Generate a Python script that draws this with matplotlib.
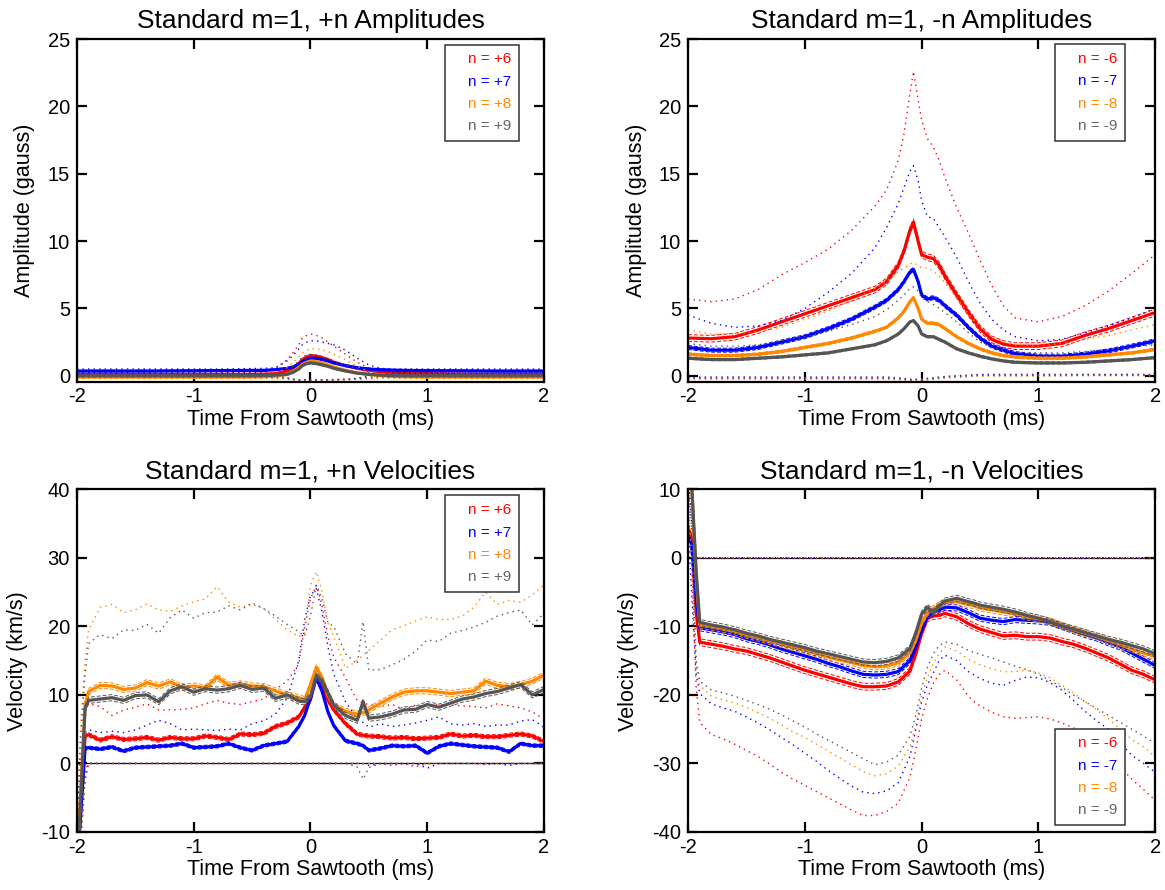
import numpy as np
import matplotlib
matplotlib.use("Agg")
import matplotlib.pyplot as plt
from matplotlib.lines import Line2D

plt.rcParams['font.family'] = ['Liberation Sans', 'DejaVu Sans']
plt.rcParams['axes.unicode_minus'] = False

# time grids (ms from sawtooth crash)
ta = [-2.0, -1.8, -1.6, -1.4, -1.2, -1.0, -0.8, -0.6,
      -0.4, -0.3, -0.2, -0.15, -0.1, -0.07, -0.03, 0.0,
      0.05, 0.1, 0.15, 0.2, 0.3, 0.4, 0.5, 0.6,
      0.7, 0.8, 1.0, 1.2, 1.4, 1.6, 1.8, 2.0]

tv = [-2.0, -1.97, -1.93, -1.9, -1.8, -1.7, -1.6, -1.5, -1.4, -1.3,
      -1.2, -1.1, -1.0, -0.9, -0.8, -0.7, -0.6, -0.5, -0.4, -0.3,
      -0.2, -0.1, -0.05, 0.0, 0.05, 0.1, 0.15, 0.2, 0.3, 0.4,
      0.45, 0.5, 0.6, 0.7, 0.8, 0.9, 1.0, 1.1, 1.2, 1.3,
      1.4, 1.5, 1.6, 1.7, 1.8, 1.9, 2.0]

# ---- +n amplitudes (gauss) ----
amp_p6 = [0.1, 0.1, 0.1, 0.1, 0.1, 0.1, 0.1, 0.1,
          0.12, 0.15, 0.35, 0.55, 0.9, 1.2, 1.4, 1.5,
          1.45, 1.35, 1.2, 1.0, 0.75, 0.55, 0.4, 0.3,
          0.25, 0.2, 0.15, 0.12, 0.1, 0.1, 0.1, 0.1]
amp_p7 = [0.35, 0.35, 0.35, 0.35, 0.36, 0.37, 0.38, 0.39,
          0.4, 0.45, 0.55, 0.65, 0.85, 1.05, 1.2, 1.3,
          1.3, 1.2, 1.1, 0.95, 0.75, 0.6, 0.5, 0.45,
          0.42, 0.4, 0.38, 0.37, 0.36, 0.35, 0.35, 0.35]
amp_p8 = [-0.1, -0.1, -0.1, -0.1, -0.1, -0.1, -0.1, -0.1,
          -0.08, -0.03, 0.1, 0.3, 0.6, 0.85, 1.0, 1.1,
          1.05, 0.95, 0.8, 0.65, 0.4, 0.2, 0.1, 0.0,
          -0.05, -0.08, -0.1, -0.1, -0.1, -0.1, -0.1, -0.1]
amp_p9 = [0.0, 0.0, 0.0, 0.0, 0.0, 0.0, 0.0, 0.0,
          0.02, 0.05, 0.1, 0.25, 0.5, 0.75, 0.9, 0.95,
          0.9, 0.8, 0.7, 0.55, 0.35, 0.2, 0.1, 0.05,
          0.02, 0.0, 0.0, 0.0, 0.0, 0.0, 0.0, 0.0]
amp_p6_hi = [0.25, 0.25, 0.25, 0.25, 0.25, 0.25, 0.25, 0.25,
             0.3, 0.5, 1.2, 1.7, 2.3, 2.8, 3.0, 3.1,
             3.0, 2.8, 2.5, 2.2, 1.6, 1.0, 0.6, 0.4,
             0.35, 0.3, 0.25, 0.25, 0.25, 0.25, 0.25, 0.25]
amp_p7_hi = [0.5, 0.5, 0.5, 0.5, 0.5, 0.5, 0.5, 0.52,
             0.55, 0.6, 1.1, 1.5, 2.0, 2.3, 2.5, 2.6,
             2.6, 2.5, 2.4, 2.3, 1.9, 1.3, 0.8, 0.55,
             0.5, 0.5, 0.5, 0.5, 0.5, 0.5, 0.5, 0.5]
amp_p8_hi = [0.0, 0.0, 0.0, 0.0, 0.0, 0.0, 0.0, 0.0,
             0.02, 0.1, 0.6, 1.0, 1.4, 1.7, 1.9, 2.0,
             2.0, 1.9, 1.8, 1.6, 1.2, 0.7, 0.3, 0.1,
             0.05, 0.0, 0.0, 0.0, 0.0, 0.0, 0.0, 0.0]
amp_p9_hi = [0.1, 0.1, 0.1, 0.1, 0.1, 0.1, 0.1, 0.1,
             0.12, 0.15, 0.4, 0.7, 1.1, 1.4, 1.55, 1.6,
             1.55, 1.45, 1.3, 1.1, 0.8, 0.5, 0.25, 0.15,
             0.1, 0.1, 0.1, 0.1, 0.1, 0.1, 0.1, 0.1]
amp_p6_lo = [0.0, 0.0, 0.0, 0.0, 0.0, 0.0, 0.0, 0.0,
             0.0, -0.05, -0.2, -0.28, -0.3, -0.3, -0.3, -0.3,
             -0.3, -0.3, -0.3, -0.28, -0.25, -0.2, -0.1, -0.05,
             0.0, 0.0, 0.0, 0.0, 0.0, 0.0, 0.0, 0.0]
amp_p7_lo = [0.2, 0.2, 0.2, 0.2, 0.2, 0.2, 0.2, 0.2,
             0.2, 0.1, -0.15, -0.25, -0.3, -0.3, -0.3, -0.3,
             -0.3, -0.3, -0.3, -0.3, -0.28, -0.2, 0.0, 0.1,
             0.2, 0.2, 0.2, 0.2, 0.2, 0.2, 0.2, 0.2]
amp_p8_lo = [-0.2, -0.2, -0.2, -0.2, -0.2, -0.2, -0.2, -0.2,
             -0.2, -0.22, -0.25, -0.3, -0.3, -0.3, -0.3, -0.3,
             -0.3, -0.3, -0.3, -0.3, -0.3, -0.28, -0.25, -0.2,
             -0.2, -0.2, -0.2, -0.2, -0.2, -0.2, -0.2, -0.2]
amp_p9_lo = [-0.1, -0.1, -0.1, -0.1, -0.1, -0.1, -0.1, -0.1,
             -0.1, -0.12, -0.2, -0.28, -0.3, -0.3, -0.3, -0.3,
             -0.3, -0.3, -0.3, -0.3, -0.28, -0.22, -0.15, -0.1,
             -0.1, -0.1, -0.1, -0.1, -0.1, -0.1, -0.1, -0.1]
err_amp_p = [0.05, 0.05, 0.05, 0.05]

# ---- -n amplitudes (gauss) ----
amp_n6 = [2.8, 2.75, 2.9, 3.4, 4.0, 4.6, 5.2, 5.8,
          6.4, 7.0, 8.2, 9.3, 10.8, 11.4, 10.0, 9.0,
          8.8, 8.7, 8.2, 7.4, 6.0, 4.7, 3.5, 2.7,
          2.35, 2.2, 2.2, 2.4, 3.0, 3.5, 4.1, 4.7]
amp_n7 = [2.1, 1.9, 1.9, 2.1, 2.5, 2.9, 3.5, 4.2,
          5.1, 5.6, 6.4, 7.0, 7.7, 7.9, 7.0, 6.0,
          5.7, 5.8, 5.6, 5.2, 4.5, 3.6, 2.8, 2.2,
          1.9, 1.65, 1.45, 1.45, 1.6, 1.85, 2.2, 2.6]
amp_n8 = [1.6, 1.5, 1.5, 1.6, 1.8, 2.1, 2.4, 2.8,
          3.3, 3.6, 4.3, 4.8, 5.5, 5.8, 5.0, 4.2,
          3.9, 3.9, 3.8, 3.5, 2.9, 2.4, 2.0, 1.7,
          1.5, 1.4, 1.3, 1.3, 1.4, 1.55, 1.7, 1.95]
amp_n9 = [1.3, 1.2, 1.2, 1.3, 1.4, 1.55, 1.7, 2.0,
          2.3, 2.6, 3.1, 3.5, 4.0, 4.1, 3.7, 3.1,
          2.9, 2.9, 2.7, 2.5, 2.0, 1.7, 1.45, 1.25,
          1.1, 1.0, 0.95, 0.95, 1.0, 1.1, 1.2, 1.35]
amp_n6_hi = [5.7, 5.5, 5.7, 6.4, 7.5, 8.4, 9.4, 10.8,
             12.6, 13.8, 16.0, 18.0, 21.0, 22.6, 20.5, 19.0,
             17.6, 17.0, 16.0, 14.7, 12.5, 10.6, 8.6, 6.7,
             5.2, 4.3, 4.0, 4.4, 5.2, 6.3, 7.6, 9.0]
amp_n7_hi = [4.5, 3.9, 3.6, 3.7, 4.1, 5.0, 6.2, 7.6,
             9.5, 11.0, 12.8, 14.0, 15.2, 15.6, 14.5, 13.0,
             11.8, 11.7, 11.0, 10.3, 8.8, 7.0, 5.4, 4.2,
             3.4, 2.9, 2.6, 2.7, 3.2, 3.7, 4.3, 5.0]
amp_n8_hi = [3.4, 3.1, 3.1, 3.3, 3.6, 4.2, 4.8, 5.6,
             6.5, 7.0, 7.7, 8.0, 8.3, 8.4, 8.2, 8.0,
             8.0, 7.8, 7.4, 6.9, 5.8, 4.6, 3.6, 2.9,
             2.5, 2.3, 2.2, 2.4, 2.7, 3.0, 3.4, 3.8]
amp_n9_hi = [2.4, 2.2, 2.2, 2.3, 2.6, 2.9, 3.3, 3.8,
             4.4, 4.9, 5.6, 6.0, 6.5, 6.6, 6.3, 5.8,
             5.5, 5.3, 5.0, 4.7, 4.0, 3.2, 2.5, 2.1,
             1.9, 1.75, 1.7, 1.7, 1.8, 1.95, 2.1, 2.3]
amp_n6_lo = [-0.2, -0.2, -0.2, -0.2, -0.2, -0.2, -0.2, -0.2,
             -0.2, -0.2, -0.25, -0.3, -0.35, -0.35, -0.3, -0.3,
             -0.3, -0.25, -0.2, -0.15, -0.1, -0.05, 0.0, 0.0,
             0.0, 0.0, 0.0, 0.0, 0.05, 0.05, 0.05, 0.0]
amp_n7_lo = [-0.1, -0.1, -0.1, -0.1, -0.1, -0.1, -0.1, -0.1,
             -0.1, -0.1, -0.15, -0.2, -0.25, -0.3, -0.25, -0.2,
             -0.2, -0.15, -0.1, -0.05, 0.0, 0.05, 0.1, 0.1,
             0.1, 0.1, 0.1, 0.1, 0.1, 0.1, 0.1, 0.1]
amp_n8_lo = [-0.25, -0.25, -0.25, -0.25, -0.25, -0.25, -0.25, -0.25,
             -0.25, -0.25, -0.3, -0.3, -0.35, -0.35, -0.3, -0.3,
             -0.3, -0.25, -0.2, -0.15, -0.1, -0.05, 0.0, 0.0,
             0.0, 0.0, 0.0, 0.0, 0.0, 0.0, 0.0, 0.0]
amp_n9_lo = [-0.15, -0.15, -0.15, -0.15, -0.15, -0.15, -0.15, -0.15,
             -0.15, -0.15, -0.2, -0.25, -0.3, -0.3, -0.25, -0.25,
             -0.2, -0.2, -0.15, -0.1, -0.05, 0.0, 0.05, 0.05,
             0.05, 0.05, 0.05, 0.05, 0.05, 0.05, 0.05, 0.05]
err_amp_n = [0.25, 0.15, 0.1, 0.08]

# ---- +n velocities (km/s) ----
vel_p6 = [-15, -8, 4.0, 4.2, 3.4, 3.9, 3.5, 3.6, 3.8, 3.4,
          3.8, 3.6, 3.6, 4.0, 3.8, 3.5, 4.3, 4.2, 4.4, 5.4,
          5.9, 6.8, 8.2, 9.3, 12.8, 11.5, 9.2, 7.8, 5.8, 4.3,
          4.1, 4.0, 3.9, 3.7, 3.8, 3.6, 3.7, 3.8, 4.3, 4.0,
          4.1, 3.9, 3.9, 4.1, 4.3, 4.0, 3.2]
vel_p7 = [-15, -8, 2.2, 2.3, 2.1, 2.4, 1.8, 2.3, 2.4, 2.5,
          2.6, 2.9, 2.3, 2.4, 2.5, 2.9, 2.3, 1.9, 2.6, 2.9,
          3.2, 5.4, 7.0, 9.5, 12.5, 10.5, 7.5, 5.5, 3.3, 2.9,
          2.6, 1.9, 2.2, 2.6, 2.5, 2.6, 1.5, 2.5, 2.9, 2.7,
          2.5, 2.4, 2.3, 1.7, 2.9, 2.6, 2.6]
vel_p8 = [-15, -5, 8.5, 10.5, 11.4, 11.3, 10.8, 11.0, 11.8, 11.3,
          11.9, 11.1, 11.3, 11.0, 12.6, 11.4, 11.6, 11.3, 11.2, 10.6,
          10.0, 9.6, 9.3, 11.5, 14.0, 12.5, 10.0, 8.5, 7.6, 7.2,
          7.4, 7.8, 8.8, 9.7, 10.4, 10.6, 10.6, 10.4, 10.2, 10.4,
          10.6, 12.0, 11.4, 11.2, 11.5, 12.0, 12.9]
vel_p9 = [-15, -6, 8.0, 9.2, 9.4, 9.6, 9.2, 9.9, 10.0, 9.0,
          10.6, 11.2, 10.4, 10.9, 10.7, 10.9, 11.4, 10.8, 11.0, 9.5,
          10.0, 9.1, 9.0, 9.8, 12.8, 12.0, 10.3, 8.5, 7.0, 6.3,
          9.0, 6.6, 6.8, 7.2, 7.8, 7.9, 8.6, 8.2, 8.8, 9.4,
          9.7, 10.2, 10.5, 11.0, 11.5, 10.0, 10.8]
vel_p6_hi = [-10, 0, 8.0, 8.7, 8.3, 7.0, 7.8, 8.2, 8.7, 7.8,
             7.8, 7.9, 8.1, 8.7, 9.2, 8.8, 8.6, 9.0, 9.4, 10.8,
             12.0, 14.5, 20.0, 24.0, 26.0, 23.0, 18.5, 15.5, 12.5, 9.2,
             8.8, 8.6, 8.3, 8.6, 7.9, 8.5, 8.3, 8.6, 8.5, 8.4,
             8.3, 8.1, 8.7, 8.4, 8.1, 7.5, 6.5]
vel_p7_hi = [-10, -2, 4.5, 4.9, 4.5, 4.7, 4.5, 4.9, 5.6, 6.3,
             5.8, 4.9, 5.0, 4.9, 4.8, 5.0, 4.9, 5.8, 6.2, 7.2,
             9.5, 15.0, 21.0, 24.5, 25.5, 22.0, 17.0, 13.0, 9.0, 6.5,
             6.0, 5.3, 5.8, 5.4, 5.6, 5.9, 6.3, 6.8, 5.8, 5.6,
             5.8, 5.4, 5.6, 5.6, 6.2, 6.4, 5.3]
vel_p8_hi = [-10, 5, 15, 19.5, 22.8, 23.2, 22.0, 22.4, 23.3, 22.4,
             22.2, 23.0, 23.6, 24.0, 25.8, 23.5, 22.8, 23.2, 22.6, 21.0,
             19.5, 18.5, 19.0, 26.0, 28.0, 25.0, 20.5, 18.5, 13.9, 15.0,
             15.8, 16.5, 18.0, 19.5, 20.1, 20.8, 21.4, 21.0, 21.0, 21.5,
             22.8, 25.0, 23.2, 23.8, 23.5, 24.6, 26.0]
vel_p9_hi = [-10, 3, 13, 17.5, 18.8, 18.2, 19.5, 19.4, 20.3, 19.0,
             21.3, 22.4, 21.2, 22.0, 22.1, 23.0, 22.4, 23.4, 22.6, 21.5,
             20.3, 19.2, 18.6, 21.5, 26.0, 24.0, 20.5, 20.0, 16.0, 14.5,
             20.7, 13.6, 13.7, 14.4, 15.2, 16.4, 18.0, 17.8, 19.0, 19.4,
             19.9, 20.6, 21.5, 22.0, 22.4, 20.2, 21.9]
vel_p6_lo = [-15, -12, -1, 0, 0, 0, 0, 0, 0, 0,
             0, 0, 0, 0, 0, 0, 0, 0, 0, 0,
             0, 0, 0, 0, 0, 0, 0, 0, 0, 0,
             0, 0, 0, -0.3, 0, -0.5, 0, 0, 0, 0,
             0, -0.2, 0, 0, 0, 0, 0]
vel_p7_lo = [-15, -12, -2, 0, 0, 0, 0, 0, 0, 0,
             0, 0, 0, 0, 0, 0, 0, 0, 0, 0,
             0, 0, 0, 0, 0, 0, 0, 0, 0, 0,
             0, -0.3, 0, 0, 0, 0, -0.7, 0, 0, 0,
             0, 0, 0, -0.3, 0, 0, 0]
vel_p8_lo = [-15, -12, -3, 0, 0, 0, 0, 0, 0, 0,
             0, 0, 0, 0, 0, 0, 0, 0, 0, 0,
             0, 0, 0, 0, 0, 0, 0, 0, 0, 0,
             0, 0, 0, 0, 0, 0, 0, 0, 0, 0,
             0, 0, 0, 0, 0, 0, 0]
vel_p9_lo = [-15, -12, -2, 0, 0, 0, 0, 0, 0, 0,
             0, 0, 0, 0, 0, 0, 0, 0, 0, 0,
             0, 0, 0, 0, 0, 0, 0, 0, 0, -0.5,
             -2.3, -0.6, 0, 0, 0, 0, 0, 0, 0, 0,
             0, 0, 0, 0, 0, 0, 0]
err_vel_p = [0.3, 0.25, 0.45, 0.45]

# ---- -n velocities (km/s) ----
vel_n6 = [4.3, 3.0, -8.0, -12.3, -12.6, -12.9, -13.3, -13.6, -14.1, -14.6,
          -15.2, -15.8, -16.4, -16.9, -17.4, -17.9, -18.4, -18.8, -18.8, -18.7,
          -18.1, -16.5, -14.0, -11.0, -8.8, -8.5, -8.4, -8.1, -8.6, -9.6,
          -10.0, -10.4, -10.9, -11.4, -11.3, -11.5, -11.5, -11.7, -12.2, -12.6,
          -13.2, -13.9, -14.6, -15.5, -16.4, -17.0, -17.8]
vel_n7 = [3.2, 2.0, -6.0, -10.2, -10.5, -10.8, -11.2, -11.8, -12.2, -12.7,
          -13.3, -13.8, -14.3, -14.8, -15.4, -15.9, -16.5, -17.0, -17.1, -17.0,
          -16.6, -15.0, -13.0, -10.5, -8.5, -8.0, -7.6, -7.2, -7.3, -8.0,
          -8.4, -8.8, -9.1, -9.3, -9.0, -9.1, -9.2, -9.4, -10.0, -10.6,
          -11.2, -11.7, -12.4, -13.0, -13.9, -14.8, -15.7]
vel_n8 = [11, 11, -3.0, -9.8, -10.1, -10.4, -10.8, -11.3, -11.7, -12.2,
          -12.6, -13.1, -13.5, -14.0, -14.5, -14.9, -15.3, -15.7, -15.9, -15.8,
          -15.3, -13.8, -12.0, -9.5, -8.0, -7.4, -6.9, -6.5, -6.4, -6.8,
          -7.0, -7.3, -7.6, -7.9, -8.2, -8.6, -8.9, -9.2, -9.9, -10.5,
          -11.0, -11.5, -12.1, -12.7, -13.3, -13.9, -14.4]
vel_n9 = [11, 11, -2.0, -9.4, -9.8, -10.1, -10.5, -11.0, -11.4, -11.9,
          -12.3, -12.7, -13.1, -13.6, -14.0, -14.4, -14.8, -15.2, -15.3, -15.1,
          -14.6, -13.2, -11.0, -8.2, -7.2, -8.0, -7.0, -6.3, -5.9, -6.4,
          -6.6, -6.9, -7.2, -7.5, -7.9, -8.4, -8.8, -9.3, -9.9, -10.4,
          -10.9, -11.4, -11.9, -12.3, -12.8, -13.3, -14.0]
vel_n6_hi = [12, 6, 0, 0, 0, 0, 0, 0, 0, 0,
             0, 0, 0, 0, 0, 0, 0, 0, 0, 0,
             0, 0, 0, 0, 0, 0, 0, 0, 0, 0,
             0, 0, 0, 0, 0, 0, 0, 0, 0, 0,
             0, 0, 0, 0, 0, 0, 0]
vel_n7_hi = [12, 5, 0, 0, 0, 0, 0, 0, 0, 0,
             0, 0, 0, 0, 0, 0, 0, 0, 0, 0,
             0, 0, 0, 0, 0, 0, 0, 0, 0, 0,
             0, 0, 0, 0, 0, 0, 0, 0, 0, 0,
             0, 0, 0, 0, 0, 0, 0]
vel_n8_hi = [12, 12, 0, 0, 0, 0, 0, 0, 0, 0,
             0, 0, 0, 0, 0, 0, 0, 0, 0, 0,
             0, 0, 0, 0, 0, 0, 0, 0, 0, 0,
             0, 0, 0, 0, 0, 0, 0, 0, 0, 0,
             0, 0, 0, 0, 0, 0, 0]
vel_n9_hi = [12, 12, 0, 0, 0, 0, 0, 0, 0, 0,
             0, 0, 0, 0, 0, 0, 0, 0, 0, 0,
             0, 0, 0, 0, 0, 0, 0, 0, 0, 0,
             0, 0, 0, 0, 0, 0, 0, 0, 0, 0,
             0, 0, 0, 0, 0, 0, 0]
vel_n6_lo = [8, 0, -19.0, -24.0, -25.8, -26.4, -27.2, -28.1, -29.0, -30.1,
             -31.3, -32.3, -33.2, -34.1, -35.0, -35.9, -36.8, -37.6, -37.6, -37.0,
             -35.8, -32.0, -28.0, -23.5, -20.5, -18.3, -17.0, -16.4, -17.8, -20.2,
             -21.0, -21.6, -22.5, -23.2, -23.4, -23.3, -23.2, -23.5, -24.1, -24.8,
             -25.7, -26.8, -28.2, -30.5, -32.3, -33.8, -35.4]
vel_n7_lo = [5, -5, -17.0, -19.8, -21.3, -21.9, -22.4, -23.2, -24.1, -25.1,
             -26.2, -27.3, -28.5, -29.7, -31.0, -32.2, -33.3, -34.2, -34.4, -34.0,
             -32.8, -29.0, -25.0, -21.0, -18.5, -16.8, -15.0, -14.2, -15.0, -16.6,
             -17.1, -17.6, -18.3, -18.6, -17.9, -17.4, -17.5, -18.2, -19.3, -20.8,
             -22.4, -23.8, -25.0, -27.0, -28.8, -30.0, -31.3]
vel_n8_lo = [10, 0, -16.0, -18.6, -20.2, -20.7, -21.2, -21.8, -22.6, -23.4,
             -24.4, -25.4, -26.2, -27.2, -28.2, -29.2, -30.2, -31.2, -31.8, -31.5,
             -30.4, -27.5, -24.5, -20.0, -17.5, -15.4, -14.0, -13.0, -13.6, -14.8,
             -15.2, -15.6, -16.2, -16.6, -16.6, -16.4, -16.8, -17.5, -18.6, -19.7,
             -21.0, -22.2, -23.5, -25.0, -26.5, -27.6, -29.0]
vel_n9_lo = [10, 5, -15.0, -18.0, -19.3, -19.7, -20.2, -20.8, -21.4, -22.1,
             -22.9, -23.8, -24.7, -25.7, -26.6, -27.5, -28.4, -29.3, -30.2, -29.8,
             -28.8, -26.0, -23.0, -19.0, -16.0, -14.0, -12.8, -12.3, -12.6, -13.5,
             -13.8, -14.1, -14.6, -15.2, -15.8, -16.3, -17.0, -17.9, -18.9, -20.0,
             -21.0, -22.0, -23.0, -24.0, -25.0, -26.0, -27.1]
err_vel_n = [0.5, 0.45, 0.45, 0.45]

labels_p = ['n = +6', 'n = +7', 'n = +8', 'n = +9']
labels_n = ['n = -6', 'n = -7', 'n = -8', 'n = -9']
colors = ['#ff0000', '#0000ff', '#ff8800', '#555555']
text_colors = ['#ff0000', '#0000ff', '#ff8800', '#666666']


def panel(ax, t, means, his, los, errs, title, ylabel, ylim, yticks,
          labels, legloc, legxy, labx, zero_line=False):
    if zero_line:
        ax.axhline(0, color='k', lw=0.9, zorder=1)
    for m, hi, lo, e, c in zip(means, his, los, errs, colors):
        m = np.array(m, dtype=float)
        ax.plot(t, hi, color=c, ls=(0, (1, 3)), lw=1.0)
        ax.plot(t, lo, color=c, ls=(0, (1, 3)), lw=1.0)
        ax.plot(t, m + e, color=c, ls=(0, (4, 2)), lw=0.7)
        ax.plot(t, m - e, color=c, ls=(0, (4, 2)), lw=0.7)
        ax.plot(t, m, color=c, lw=2.3)
    ax.set_xlim(-2, 2)
    ax.set_ylim(*ylim)
    ax.set_xticks([-2, -1, 0, 1, 2])
    ax.set_yticks(yticks)
    ax.tick_params(direction='in', top=True, right=True, length=7, width=1.6,
                   labelsize=14.5)
    ax.tick_params(axis='x', pad=4)
    ax.tick_params(axis='y', pad=5)
    for s in ax.spines.values():
        s.set_linewidth(1.6)
    ax.set_title(title, fontsize=19, pad=8)
    ax.set_xlabel('Time From Sawtooth (ms)', fontsize=15.5, labelpad=2)
    ax.set_ylabel(ylabel, fontsize=15.5)
    ax.yaxis.set_label_coords(labx, 0.5)
    handles = [Line2D([], [], color='none') for _ in labels]
    leg = ax.legend(handles, labels, loc=legloc, bbox_to_anchor=legxy,
                    borderaxespad=0, handlelength=0.7, handletextpad=0.3,
                    fontsize=11, labelspacing=0.55, borderpad=0.5,
                    fancybox=False, framealpha=1, edgecolor='#333333',
                    labelcolor=text_colors)
    leg.get_frame().set_linewidth(1.1)


fig = plt.figure(figsize=(11.65, 8.9), dpi=100)
w, h = 0.401, 0.385
ax1 = fig.add_axes([0.066, 0.571, w, h])
ax2 = fig.add_axes([0.5906, 0.571, w, h])
ax3 = fig.add_axes([0.066, 0.0652, w, h])
ax4 = fig.add_axes([0.5906, 0.0652, w, h])

panel(ax1, ta, [amp_p6, amp_p7, amp_p8, amp_p9],
      [amp_p6_hi, amp_p7_hi, amp_p8_hi, amp_p9_hi],
      [amp_p6_lo, amp_p7_lo, amp_p8_lo, amp_p9_lo], err_amp_p,
      'Standard m=1, +n Amplitudes', 'Amplitude (gauss)', (-0.45, 25),
      [0, 5, 10, 15, 20, 25], labels_p, 'upper right', (0.946, 0.984), -0.09)

panel(ax2, ta, [amp_n6, amp_n7, amp_n8, amp_n9],
      [amp_n6_hi, amp_n7_hi, amp_n8_hi, amp_n9_hi],
      [amp_n6_lo, amp_n7_lo, amp_n8_lo, amp_n9_lo], err_amp_n,
      'Standard m=1, -n Amplitudes', 'Amplitude (gauss)', (-0.45, 25),
      [0, 5, 10, 15, 20, 25], labels_n, 'upper right', (0.936, 0.985), -0.088)

panel(ax3, tv, [vel_p6, vel_p7, vel_p8, vel_p9],
      [vel_p6_hi, vel_p7_hi, vel_p8_hi, vel_p9_hi],
      [vel_p6_lo, vel_p7_lo, vel_p8_lo, vel_p9_lo], err_vel_p,
      'Standard m=1, +n Velocities', 'Velocity (km/s)', (-10, 40),
      [-10, 0, 10, 20, 30, 40], labels_p, 'upper right', (0.946, 0.982), -0.105,
      zero_line=True)

panel(ax4, tv, [vel_n6, vel_n7, vel_n8, vel_n9],
      [vel_n6_hi, vel_n7_hi, vel_n8_hi, vel_n9_hi],
      [vel_n6_lo, vel_n7_lo, vel_n8_lo, vel_n9_lo], err_vel_n,
      'Standard m=1, -n Velocities', 'Velocity (km/s)', (-40, 10),
      [-40, -30, -20, -10, 0, 10], labels_n, 'lower right', (0.936, 0.02), -0.105,
      zero_line=True)

fig.savefig('out.png', dpi=100)
